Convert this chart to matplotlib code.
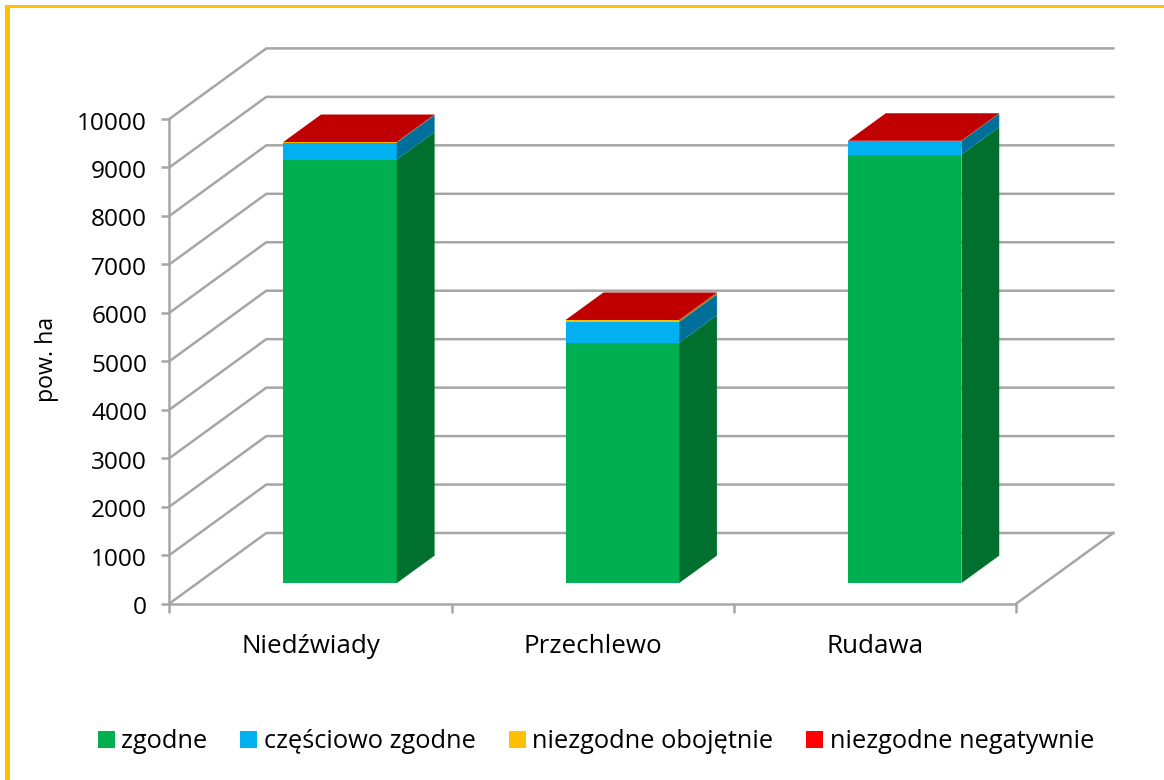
import matplotlib
matplotlib.use("Agg")
import matplotlib.pyplot as plt
from matplotlib.patches import Patch, Rectangle
from matplotlib.transforms import ScaledTranslation

plt.rcParams['font.family'] = ['Open Sans', 'DejaVu Sans']

# dane (pow. ha)
kategorie = ["Niedźwiady", "Przechlewo", "Rudawa"]
serie = ["zgodne", "częściowo zgodne", "niezgodne obojętnie", "niezgodne negatywnie"]
zgodne = [8740, 4960, 8840]
czesciowo = [350, 430, 280]
obojetnie = [6, 30, 4]
negatywnie = [6, 10, 4]
wartosci = [zgodne, czesciowo, obojetnie, negatywnie]

kolory = ["#00B050", "#00B0F0", "#FFC000", "#FF0000"]
kolory_bok = ["#00702F", "#00709A", "#A87E00", "#A00000"]
kolory_gora = ["#00B050", "#00B0F0", "#FFC000", "#C00000"]
szary = "#A6A6A6"

W, H = 1164, 780
fig = plt.figure(figsize=(W / 100, H / 100), dpi=100)
ax = fig.add_axes([169.3 / W, (H - 603.6) / H, 847 / W, 484.6 / H])
ax.set_xlim(0, 3)
ax.set_ylim(0, 10000)
ax.set_facecolor("none")

# przesuniecie "glebokosci" pseudo 3D w jednostkach osi
DX = 97 / 282.33
DY = 70.5 / 0.0484
D0, D1 = 0.29, 0.68
SZER = 0.402
SRODEK = 0.505


def rzut(x, v, d):
    return x + d * DX, v + d * DY


def czworokat(punkty, kolor, z):
    xs = [p[0] for p in punkty]
    ys = [p[1] for p in punkty]
    ax.fill(xs, ys, color=kolor, lw=0, clip_on=False, zorder=z)


# siatka na scianach i podlodze
for v in range(0, 10001, 1000):
    x0, y0 = rzut(0, v, 0)
    x1, y1 = rzut(0, v, 1)
    x2, y2 = rzut(3, v, 1)
    ax.plot([x0, x1, x2], [y0, y1, y2], color=szary, lw=1.8, clip_on=False,
            solid_joinstyle="miter", zorder=1)
x0, y0 = rzut(3, 0, 0)
x1, y1 = rzut(3, 0, 1)
ax.plot([x0, x1], [y0, y1], color=szary, lw=1.8, clip_on=False, zorder=1)

# slupki
for i in range(len(kategorie)):
    lewy = i + SRODEK - SZER / 2
    prawy = i + SRODEK + SZER / 2
    dol = 0
    for s in range(len(serie)):
        gora = dol + wartosci[s][i]
        czworokat([rzut(lewy, dol, D0), rzut(prawy, dol, D0),
                   rzut(prawy, gora, D0), rzut(lewy, gora, D0)], kolory[s], 3)
        czworokat([rzut(prawy, dol, D0), rzut(prawy, dol, D1),
                   rzut(prawy, gora, D1), rzut(prawy, gora, D0)], kolory_bok[s], 3)
        dol = gora
    czworokat([rzut(lewy, dol, D0), rzut(prawy, dol, D0),
               rzut(prawy, dol, D1), rzut(lewy, dol, D1)], kolory_gora[-1], 3)

# osie
for nazwa, sp in ax.spines.items():
    if nazwa in ("left", "bottom"):
        sp.set_color(szary)
        sp.set_linewidth(1.8)
        sp.set_zorder(2)
    else:
        sp.set_visible(False)
ax.set_yticks(range(0, 10001, 1000))
ax.set_xticks(range(4))
ax.set_xticklabels([])
ax.set_xticks([i + 0.5 for i in range(3)], minor=True)
ax.set_xticklabels(kategorie, minor=True)
ax.tick_params(axis="y", length=6, width=1.8, color=szary, labelsize=17.6, pad=10, labelcolor="black")
ax.tick_params(axis="x", which="major", length=6.5, width=1.8, color=szary)
ax.tick_params(axis="x", which="minor", length=0, labelsize=18.7, pad=22, labelcolor="black")
for t in ax.get_yticklabels():
    t.set_transform(t.get_transform() + ScaledTranslation(0, -1.5 / 100, fig.dpi_scale_trans))
ax.set_ylabel("pow. ha", fontsize=16.7)
ax.yaxis.set_label_coords(-110 / 847, 0.503)

uchwyty = [Patch(color=k, lw=0) for k in kolory]
fig.legend(uchwyty, serie, loc="center", bbox_to_anchor=(596 / W, (H - 742) / H), ncol=4,
           frameon=False, fontsize=18.3, handlelength=0.67, handleheight=0.67,
           handletextpad=0.27, columnspacing=1.28, borderpad=0, borderaxespad=0)

# zolta ramka: tylko gora i lewa strona
fig.add_artist(Rectangle((5 / W, 0), 5.3 / W, (H - 5) / H, color="#FFC000", lw=0,
                         transform=fig.transFigure))
fig.add_artist(Rectangle((5 / W, (H - 8.3) / H), (W - 5) / W, 3.3 / H, color="#FFC000", lw=0,
                         transform=fig.transFigure))

fig.savefig("out.png", dpi=100, facecolor="white")
